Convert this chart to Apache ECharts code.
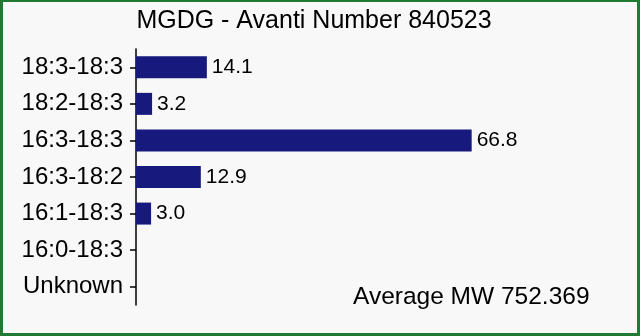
<!DOCTYPE html>
<html>
<head>
<meta charset="utf-8">
<script src="https://cdn.jsdelivr.net/npm/echarts@6/dist/echarts.min.js"></script>
<style>
  html, body { margin: 0; padding: 0; background: #ffffff; }
  #frame { position: absolute; left: 0; top: 0; width: 634px; height: 331px; border-style: solid; border-color: #1f7a34; border-width: 2px 3px 3px 3px; background: #f8f8f8; }
  #chart { position: absolute; left: -3px; top: -2px; width: 640px; height: 336px; }
</style>
</head>
<body>
<div id="frame"><div id="chart"></div></div>
<script>
const titleText = 'MGDG - Avanti Number 840523';
const noteText = 'Average MW 752.369';
const categories = ['18:3-18:3', '18:2-18:3', '16:3-18:3', '16:3-18:2', '16:1-18:3', '16:0-18:3', 'Unknown'];
const values = [14.1, 3.2, 66.8, 12.9, 3.0, null, null];

const FONT = 'Liberation Sans, Arial, Helvetica, sans-serif';
const chart = echarts.init(document.getElementById('chart'), null, { renderer: 'canvas' });
chart.setOption({
  backgroundColor: 'transparent',
  animation: false,
  title: {
    text: titleText,
    left: 314, top: 21, textAlign: 'center', textVerticalAlign: 'middle',
    padding: 0,
    textStyle: { fontFamily: FONT, fontSize: 25, fontWeight: 'normal', color: '#000' }
  },
  grid: { left: 136, right: 102, top: 49, bottom: 31, containLabel: false },
  xAxis: {
    type: 'value', min: 0, max: 80,
    show: false
  },
  yAxis: {
    type: 'category', inverse: true, data: categories,
    position: 'left',
    axisLine: { show: true, onZero: false, lineStyle: { color: '#000', width: 1.5 } },
    axisTick: { show: true, alignWithLabel: true, interval: 0, inside: false, length: 6, lineStyle: { color: '#000', width: 1.5 } },
    axisLabel: { margin: 13, interval: 0, fontFamily: FONT, fontSize: 24, color: '#000' },
    splitLine: { show: false }
  },
  series: [{
    type: 'bar',
    data: values,
    barWidth: 22,
    itemStyle: { color: '#17197c' },
    label: {
      show: true, position: 'right', distance: 5,
      fontFamily: FONT, fontSize: 21, color: '#000',
      formatter: p => p.value == null ? '' : Number(p.value).toFixed(1)
    }
  }],
  graphic: [{
    type: 'text', left: 353, top: 285,
    style: { text: noteText, fontFamily: FONT, fontSize: 24.5, fill: '#000' }
  }]
});
</script>
</body>
</html>
